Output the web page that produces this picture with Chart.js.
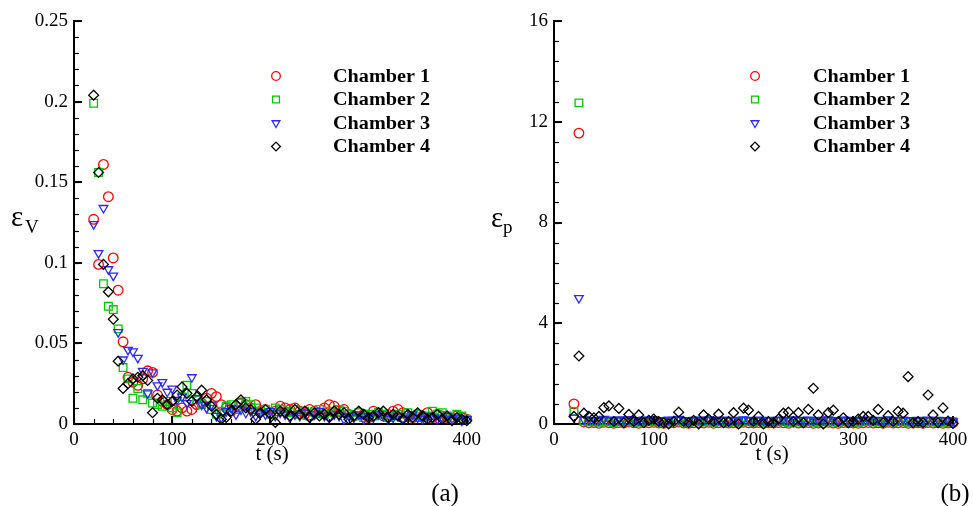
<!DOCTYPE html>
<html>
<head>
<meta charset="utf-8">
<script src="https://cdn.jsdelivr.net/npm/chart.js@4/dist/chart.umd.min.js"></script>
<style>
  html, body { margin: 0; padding: 0; background: #fff; }
  #wrap { position: relative; width: 973px; height: 506px; }
  canvas { position: absolute; top: 0; }
  #leftChart { left: 0; }
  #rightChart { left: 486px; }
</style>
</head>
<body>
<div id="wrap">
  <canvas id="leftChart" width="486" height="506"></canvas>
  <canvas id="rightChart" width="487" height="506"></canvas>
</div>
<script>
// sample times (s), shared by every series
var times = [20,25,30,35,40,45,50,55,60,65,70,75,80,85,90,95,100,105,110,115,120,125,130,135,140,145,150,
  155,160,165,170,175,180,185,190,195,200,205,210,215,220,225,230,235,240,245,250,255,260,265,270,275,280,
  285,290,295,300,305,310,315,320,325,330,335,340,345,350,355,360,365,370,375,380,385,390,395,400];

// (a) volume error
var epsV1 = [0.127,0.099,0.161,0.141,0.103,0.083,0.051,0.029,0.026,0.024,0.028,0.033,0.032,0.018,0.014,0.012,0.009,0.008,0.010,0.008,0.009,0.012,0.013,0.016,0.019,0.017,0.012,
  0.010,0.008,0.011,0.013,0.012,0.010,0.012,0.008,0.009,0.007,0.008,0.011,0.010,0.009,0.010,0.008,0.006,0.009,0.008,0.007,
  0.010,0.012,0.011,0.008,0.009,0.006,0.005,0.007,0.006,0.004,0.008,0.007,0.005,0.006,0.008,0.009,0.007,0.005,0.004,0.006,
  0.005,0.007,0.004,0.006,0.005,0.004,0.003,0.005,0.004,0.003];
var epsV2 = [0.199,0.156,0.087,0.073,0.071,0.059,0.035,0.028,0.016,0.022,0.015,0.019,0.013,0.012,0.011,0.014,0.010,0.007,0.017,0.024,0.019,0.015,0.012,0.014,0.009,0.006,0.008,
  0.011,0.012,0.009,0.013,0.014,0.012,0.010,0.008,0.009,0.006,0.010,0.009,0.008,0.007,0.009,0.006,0.008,0.005,0.007,0.009,
  0.006,0.008,0.007,0.009,0.008,0.006,0.005,0.007,0.004,0.006,0.005,0.007,0.006,0.004,0.005,0.006,0.004,0.007,0.005,0.006,
  0.004,0.005,0.008,0.006,0.007,0.005,0.004,0.006,0.005,0.003];
var epsV3 = [0.124,0.106,0.134,0.096,0.092,0.057,0.040,0.046,0.045,0.041,0.033,0.019,0.032,0.024,0.026,0.020,0.022,0.015,0.017,0.013,0.029,0.016,0.012,0.010,0.012,0.005,0.004,
  0.008,0.010,0.006,0.009,0.007,0.008,0.005,0.007,0.006,0.008,0.005,0.007,0.006,0.004,0.006,0.005,0.007,0.004,0.006,0.008,
  0.005,0.004,0.006,0.005,0.003,0.005,0.004,0.006,0.003,0.005,0.004,0.006,0.005,0.003,0.004,0.005,0.003,0.004,0.006,0.004,
  0.003,0.005,0.004,0.003,0.004,0.005,0.003,0.004,0.002,0.003];
var epsV4 = [0.204,0.156,0.099,0.082,0.065,0.039,0.022,0.025,0.028,0.029,0.030,0.027,0.007,0.016,0.015,0.012,0.014,0.018,0.023,0.019,0.014,0.017,0.021,0.015,0.011,0.006,0.003,
  0.004,0.008,0.012,0.015,0.010,0.009,0.003,0.007,0.009,0.006,0.001,0.008,0.007,0.005,0.009,0.006,0.008,0.004,0.007,0.005,
  0.006,0.004,0.008,0.006,0.007,0.003,0.005,0.008,0.006,0.004,0.005,0.007,0.008,0.004,0.006,0.005,0.003,0.006,0.004,0.007,
  0.005,0.003,0.004,0.006,0.003,0.005,0.002,0.004,0.003,0.002];

// (b) pressure error
var epsP1 = [0.80,11.55,
  0.08,0.05,0.06,0.03,0.07,0.05,0.03,0.06,0.04,0.08,0.05,0.03,0.06,0.05,0.07,0.04,0.03,0.06,0.05,0.08,
  0.04,0.03,0.05,0.06,0.04,0.07,0.03,0.05,0.06,0.04,0.05,0.03,0.07,0.05,0.04,0.06,0.03,0.05,0.04,0.06,
  0.05,0.03,0.07,0.04,0.05,0.06,0.03,0.04,0.05,0.07,0.04,0.03,0.06,0.05,0.04,0.03,0.05,0.06,0.04,0.05,
  0.03,0.07,0.04,0.05,0.06,0.03,0.04,0.05,0.03,0.06,0.04,0.05,0.03,0.04,0.05];
var epsP2 = [0.50,12.75,
  0.12,0.09,0.10,0.07,0.11,0.08,0.06,0.10,0.09,0.12,0.08,0.07,0.10,0.09,0.11,0.08,0.06,0.10,0.09,0.13,
  0.08,0.07,0.09,0.10,0.08,0.11,0.07,0.09,0.10,0.08,0.09,0.07,0.11,0.09,0.08,0.10,0.07,0.09,0.08,0.10,
  0.09,0.07,0.11,0.08,0.09,0.10,0.07,0.08,0.09,0.11,0.08,0.07,0.10,0.09,0.08,0.07,0.09,0.10,0.08,0.09,
  0.07,0.11,0.08,0.09,0.10,0.07,0.08,0.09,0.07,0.10,0.08,0.09,0.07,0.08,0.09];
var epsP3 = [0.25,5.00,
  0.18,0.15,0.16,0.14,0.20,0.17,0.15,0.18,0.16,0.19,0.15,0.14,0.17,0.16,0.18,0.15,0.13,0.17,0.16,0.20,
  0.15,0.14,0.16,0.17,0.15,0.18,0.14,0.16,0.17,0.15,0.16,0.14,0.18,0.16,0.15,0.17,0.14,0.16,0.15,0.17,
  0.16,0.14,0.18,0.15,0.16,0.17,0.14,0.15,0.16,0.18,0.15,0.14,0.17,0.16,0.15,0.14,0.16,0.17,0.15,0.16,
  0.14,0.18,0.15,0.16,0.17,0.14,0.15,0.16,0.14,0.17,0.15,0.16,0.14,0.15,0.10];
var epsP4 = [0.30,2.70,
  0.43,0.30,0.25,0.30,0.65,0.72,0.10,0.62,0.05,0.38,0.10,0.36,0.05,0.15,0.20,0.10,0.05,0.00,0.10,0.47,
  0.10,0.05,0.15,0.00,0.36,0.20,0.10,0.39,0.05,0.10,0.45,0.00,0.63,0.55,0.10,0.30,0.00,0.10,0.05,0.20,
  0.43,0.47,0.10,0.45,0.05,0.58,1.42,0.36,0.00,0.45,0.55,0.10,0.25,0.05,0.10,0.20,0.30,0.30,0.15,0.58,
  0.05,0.33,0.10,0.50,0.43,1.88,0.05,0.10,0.05,1.15,0.36,0.05,0.64,0.12,0.02];

var chamberNames = ['Chamber 1', 'Chamber 2', 'Chamber 3', 'Chamber 4'];
var xTicks = [0, 100, 200, 300, 400];
var yTicksV = [0, 0.05, 0.1, 0.15, 0.2, 0.25];
var yTicksP = [0, 4, 8, 12, 16];

var colors = ['#ff0000', '#00c800', '#2828ff', '#000000'];
var markers = [
  { pointStyle: 'circle', radius: 4.8, rotation: 0 },
  { pointStyle: 'rect', radius: 5.4, rotation: 0 },
  { pointStyle: 'triangle', radius: 5, rotation: 180 },
  { pointStyle: 'rectRot', radius: 4.9, rotation: 0 }
];
var serif = '"Liberation Serif", "Times New Roman", serif';

function makeDatasets(series) {
  return series.map(function (vals, i) {
    return {
      label: chamberNames[i],
      data: vals.map(function (v, k) { return { x: times[k], y: v }; }),
      pointStyle: markers[i].pointStyle,
      pointRotation: markers[i].rotation,
      pointRadius: markers[i].radius,
      pointBorderWidth: 1.3,
      pointBorderColor: colors[i],
      pointBackgroundColor: 'rgba(0,0,0,0)',
      showLine: false,
      clip: false,
      order: 3 - i
    };
  });
}

// inward major/minor ticks like the original plot
function innerTicks(minorX, minorY) {
  return {
    id: 'innerTicks',
    afterDatasetsDraw: function (chart) {
      var ctx = chart.ctx, sx = chart.scales.x, sy = chart.scales.y, a = chart.chartArea;
      ctx.save();
      ctx.strokeStyle = '#000';
      ctx.lineWidth = 1.2;
      var v, p;
      for (v = sx.min; v <= sx.max + 1e-9; v += minorX) {
        p = Math.round(sx.getPixelForValue(v)) + 0.5;
        ctx.beginPath(); ctx.moveTo(p, a.bottom); ctx.lineTo(p, a.bottom - 5); ctx.stroke();
      }
      for (v = sy.min; v <= sy.max + 1e-9; v += minorY) {
        p = Math.round(sy.getPixelForValue(v)) + 0.5;
        ctx.beginPath(); ctx.moveTo(a.left, p); ctx.lineTo(a.left + 5, p); ctx.stroke();
      }
      ctx.lineWidth = 2;
      sx.ticks.forEach(function (t) {
        p = Math.round(sx.getPixelForValue(t.value));
        ctx.beginPath(); ctx.moveTo(p, a.bottom); ctx.lineTo(p, a.bottom - 8); ctx.stroke();
      });
      sy.ticks.forEach(function (t) {
        p = Math.round(sy.getPixelForValue(t.value));
        ctx.beginPath(); ctx.moveTo(a.left, p); ctx.lineTo(a.left + 8, p); ctx.stroke();
      });
      ctx.restore();
    }
  };
}

// axis labels, panel letter and legend
function decorations(opt) {
  return {
    id: 'decorations',
    afterDraw: function (chart) {
      var ctx = chart.ctx;
      ctx.save();
      ctx.fillStyle = '#000';
      ctx.textBaseline = 'alphabetic';
      ctx.textAlign = 'left';
      ctx.font = '29px ' + serif;
      ctx.fillText('\u03b5', opt.symX, opt.symY);
      ctx.font = '19px ' + serif;
      ctx.fillText(opt.sub, opt.subX, opt.subY);
      ctx.textAlign = 'center';
      ctx.font = '21px ' + serif;
      ctx.fillText('t (s)', opt.titleX, opt.titleY);
      ctx.font = '25px ' + serif;
      ctx.fillText(opt.panel, opt.panelX, opt.panelY);

      ctx.textAlign = 'left';
      ctx.textBaseline = 'middle';
      ctx.font = 'bold 18px ' + serif;
      chamberNames.forEach(function (name, i) {
        var y = opt.legendY + i * 23.5;
        ctx.strokeStyle = colors[i];
        ctx.fillStyle = 'rgba(0,0,0,0)';
        ctx.lineWidth = 1.3;
        Chart.helpers.drawPoint(ctx, {
          pointStyle: markers[i].pointStyle,
          rotation: markers[i].rotation,
          radius: markers[i].radius * 0.9,
          borderWidth: 1.3
        }, opt.markerX, y);
        // Palatino-like width: stretch the bold label to the original width
        var w = ctx.measureText(name).width;
        ctx.save();
        ctx.translate(opt.textX, y + 1);
        ctx.scale(97 / w, 1);
        ctx.fillStyle = '#000';
        ctx.fillText(name, 0, 0);
        ctx.restore();
      });
      ctx.restore();
    }
  };
}

function makeChart(canvasId, series, yMax, yTicks, yWidth, padRight, minorY, opt) {
  var tickFont = { family: serif, size: 19 };
  return new Chart(document.getElementById(canvasId), {
    type: 'scatter',
    data: { datasets: makeDatasets(series) },
    options: {
      responsive: false,
      animation: false,
      devicePixelRatio: 1,
      layout: { autoPadding: false, padding: { left: 0, right: padRight, top: 21, bottom: 0 } },
      plugins: { legend: { display: false }, tooltip: { enabled: false } },
      scales: {
        x: {
          type: 'linear', min: 0, max: 400,
          grid: { display: false, drawTicks: false },
          border: { display: true, color: '#000', width: 2 },
          ticks: { font: tickFont, color: '#000', padding: 5, maxRotation: 0, autoSkip: false },
          afterBuildTicks: function (s) { s.ticks = xTicks.map(function (v) { return { value: v }; }); },
          afterFit: function (s) { s.height = 82; }
        },
        y: {
          type: 'linear', min: 0, max: yMax,
          grid: { display: false, drawTicks: false },
          border: { display: true, color: '#000', width: 2 },
          ticks: { font: tickFont, color: '#000', padding: 6, autoSkip: false,
            callback: function (v) { return String(v); } },
          afterBuildTicks: function (s) { s.ticks = yTicks.map(function (v) { return { value: v }; }); },
          afterFit: function (s) { s.width = yWidth; }
        }
      }
    },
    plugins: [innerTicks(20, minorY), decorations(opt)]
  });
}

makeChart('leftChart', [epsV1, epsV2, epsV3, epsV4], 0.25, yTicksV, 74, 13, 0.01, {
  symX: 11, symY: 226, sub: 'V', subX: 25, subY: 233,
  titleX: 272, titleY: 460, panel: '(a)', panelX: 445, panelY: 501,
  legendY: 76, markerX: 276, textX: 333
});
makeChart('rightChart', [epsP1, epsP2, epsP3, epsP4], 16, yTicksP, 68, 20, 0.8, {
  symX: 5, symY: 227, sub: 'p', subX: 17, subY: 233,
  titleX: 286, titleY: 460, panel: '(b)', panelX: 469, panelY: 501,
  legendY: 76, markerX: 269, textX: 327
});
</script>
</body>
</html>
